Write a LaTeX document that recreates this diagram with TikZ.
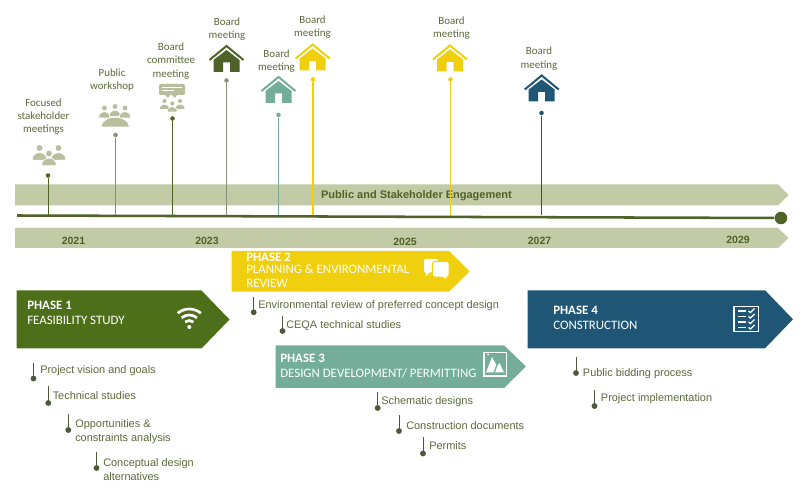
\documentclass[tikz,border=0pt]{standalone}
\usepackage{fontspec}
\setmainfont{Carlito}
\newfontfamily\arialf{Liberation Sans}
\definecolor{band}{HTML}{C3CBA6}
\definecolor{tline}{HTML}{4F6228}
\definecolor{olive}{HTML}{5A6B3A}
\definecolor{pone}{HTML}{4E6F1A}
\definecolor{ptwo}{HTML}{F0CF0E}
\definecolor{pthree}{HTML}{74AE9A}
\definecolor{pfour}{HTML}{1F5675}
\definecolor{softolive}{HTML}{B7BF9C}
\definecolor{stemgrey}{HTML}{8A9078}
\definecolor{bulletdark}{HTML}{4D5A3A}
\tikzset{
 x=0.75pt,y=-0.75pt,
 evlabel/.style={text=olive,align=center,font=\fontsize{8.2}{10}\selectfont,inner sep=0pt,yshift=-0.6pt},
 bltext/.style={text=olive,align=left,anchor=west,font=\arialf\fontsize{8.2}{10}\selectfont,inner sep=0pt,yshift=-0.6pt},
 yearlabel/.style={text=tline,font=\arialf\bfseries\fontsize{7.9}{10}\selectfont,inner sep=0pt,yshift=-0.3pt},
 phasetext/.style={text=white,align=left,anchor=north west,font=\fontsize{9.65}{10}\selectfont,inner sep=0pt},
 pin/.style={circle,inner sep=0pt,minimum size=3.4pt},
 bdot/.style={circle,fill=bulletdark,inner sep=0pt,minimum size=4.4pt},
 bandshape/.style={fill=band,draw=none},
}
\newcommand{\house}[4]{%
 \begin{scope}[shift={(#1,#2)}]
  \draw[#3,line width=1.5pt,miter limit=10] (-17,15.5)--(0,1.5)--(17,15.5);
  \fill[#3] (-13,27.5)--(-13,15.5)--(0,5.5)--(13,15.5)--(13,27.5)--(3.5,27.5)--(3.5,18)--(-3.5,18)--(-3.5,27.5)--cycle;
 \end{scope}}
\newcommand{\person}[3]{%
 \fill[softolive] (#1,#2) circle[radius=#3*0.82];
 \fill[softolive,draw=white,line width=0.5pt] (#1-#3*1.9,#2+#3*3.4) -- (#1-#3*1.9,#2+#3*2.4) .. controls (#1-#3*1.2,#2+#3*0.9) and (#1+#3*1.2,#2+#3*0.9) .. (#1+#3*1.9,#2+#3*2.4) -- (#1+#3*1.9,#2+#3*3.4) -- cycle;}
\newcommand{\bul}[8]{% name, x, top, doty, textx, texty, text, dotx
 \coordinate (#1top) at (#2,#3);
 \node[bdot] (#1dot) at (#8,#4) {};
 \draw[bulletdark,line width=0.6pt] (#1top) -- (#2,#4);
 \node[bltext] (#1txt) at (#5,#6) {#7};}
\newcommand{\evstem}[6]{% name, x, top, bottom, color, width
 \coordinate (#1base) at (#2,#4);
 \node[pin,fill=#5] (#1pin) at (#2,#3) {};
 \draw[#5,line width=#6] (#1base) -- (#1pin);}
\begin{document}
\begin{tikzpicture}
\useasboundingbox (0,0) rectangle (800,495);
\fill[white] (0,0) rectangle (800,495);
% bands
\fill[bandshape] (15,184.5)--(778,184.5)--(788.5,195)--(778,205.5)--(15,205.5)--cycle;
\fill[bandshape] (15,228)--(778,228)--(788.5,238)--(778,248)--(15,248)--cycle;
\node[text=tline,font=\arialf\bfseries\fontsize{8.25}{10}\selectfont,inner sep=0pt] (eng) at (416.5,196) {Public and Stakeholder Engagement};
\foreach \nm/\yx/\yy/\yt in {ya/73.5/240/2021,yb/207/240/2023,yc/405/241.5/2025,yd/539.5/240/2027,ye/738/239/2029}{
 \node[yearlabel] (\nm) at (\yx,\yy) {\yt};}
% stems
\evstem{s1}{48}{175.5}{216}{tline}{0.75pt}
\evstem{s2}{115.5}{135}{216}{stemgrey}{0.8pt}
\evstem{s3}{172.5}{118.5}{216}{tline}{0.6pt}
\evstem{s4}{226.5}{80.5}{217}{stemgrey}{0.9pt}
\evstem{s5}{278.5}{115}{217}{pthree}{0.7pt}
\evstem{s6}{313}{79.5}{217}{ptwo}{0.9pt}
\evstem{s7}{450.5}{79.5}{217}{ptwo}{0.9pt}
\evstem{s8}{541.5}{113}{215}{pfour}{0.7pt}
% timeline
\node[circle,fill=tline,inner sep=0pt,minimum size=9.4pt] (tend) at (781,218) {};
\coordinate (tstart) at (17,215.5);
\draw[tline,line width=1.9pt] (tstart) -- (tend);
% event labels
\node[evlabel] (l1) at (43.5,115.7) {Focused\\stakeholder\\meetings};
\node[evlabel] (l2) at (112,79.5) {Public\\workshop};
\node[evlabel] (l3) at (171,60.3) {Board\\committee\\meeting};
\node[evlabel] (l4) at (227,28.3) {Board\\meeting};
\node[evlabel] (l5) at (276.5,60.5) {Board\\meeting};
\node[evlabel] (l6) at (312.5,26.5) {Board\\meeting};
\node[evlabel] (l7) at (451.5,27.5) {Board\\meeting};
\node[evlabel] (l8) at (539,57.7) {Board\\meeting};
% houses
\house{226.5}{44.5}{tline}{}
\house{278.5}{75.5}{pthree}{}
\house{312.7}{43}{ptwo}{}
\house{450}{44}{ptwo}{}
\house{541.7}{74}{pfour}{}
% focused stakeholders icon
\person{39.5}{148}{3.6}
\person{58.5}{148}{3.6}
\person{49}{153.5}{3.6}
% workshop icon
\person{104.5}{108}{2.9}
\person{115}{106.5}{2.9}
\person{125}{108}{2.9}
\fill[softolive,draw=white,line width=0.5pt] (101,127)..controls (102,114) and (128,114)..(129.5,127)--cycle;
% board committee icon
\fill[softolive,rounded corners=1pt] (159,84)--(185,84)--(185,95)--(159,95)--cycle;
\fill[softolive] (165,95)--(168,98)--(170,95)--cycle (172,95)--(175,98)--(177,95)--cycle;
\draw[white,line width=0.7pt] (162,87.5)--(182,87.5) (162,90.5)--(174,90.5);
\person{164.5}{101}{2.5}
\person{180}{101}{2.5}
\person{172.3}{103.5}{2.5}
% phases
\fill[pone] (16.5,290.5)--(201.5,290.5)--(229.5,319.5)--(201.5,348.5)--(16.5,348.5)--cycle;
\fill[ptwo] (231.7,251)--(449,251)--(469.5,271.5)--(449,291.7)--(231.7,291.7)--cycle;
\fill[pthree] (275.7,345.3)--(504,345.3)--(526,366.5)--(504,388)--(275.7,388)--cycle;
\fill[pfour] (527.7,290.3)--(765,290.3)--(793,319.3)--(765,348.3)--(527.7,348.3)--cycle;
\node[phasetext] (p1) at (27,300.5) {\textbf{PHASE 1}\\[1.4pt]FEASIBILITY STUDY};
\node[phasetext] (p2) at (246,252.5) {\textbf{PHASE 2}\\[-0.5pt]PLANNING \& ENVIRONMENTAL\\[0pt]REVIEW};
\node[phasetext] (p3) at (280,353.5) {\textbf{PHASE 3}\\[1.4pt]DESIGN DEVELOPMENT/ PERMITTING};
\node[phasetext] (p4) at (553,305.5) {\textbf{PHASE 4}\\[1.4pt]CONSTRUCTION};
% wifi icon
\begin{scope}[shift={(189.3,327)}]
 \draw[white,line width=2pt] (-130:18) arc[start angle=-130,end angle=-50,radius=18];
 \draw[white,line width=2pt] (-130:12) arc[start angle=-130,end angle=-50,radius=12];
 \draw[white,line width=2pt] (-130:6.5) arc[start angle=-130,end angle=-50,radius=6.5];
 \fill[white] (0,0) circle[radius=2];
\end{scope}
% speech bubbles icon
\fill[white,rounded corners=1.5pt] (424,259)--(438,259)--(438,272)--(429,272)--(426,277)--(426,272)--(424,272)--cycle;
\fill[white,draw=ptwo,line width=0.7pt,rounded corners=1.5pt] (432.5,261.5)--(449,261.5)--(449,277)--(447,277)--(447,280.5)--(443,277)--(432.5,277)--cycle;
% picture icon
\draw[white,line width=1.3pt] (484,352.5) rectangle (506.5,376);
\fill[white] (486,372.5)--(492,357)--(497,366)--(499.5,363)--(504,372.5)--cycle;
\fill[pthree] (493.5,372.5)--(495,372.5)--(497.5,365)--(496.5,364.5)--cycle;
\fill[white] (488,354.5) circle[radius=1];
% checklist icon
\draw[white,line width=1.2pt] (734,306.5) rectangle (758.5,331.5);
\foreach \yy in {311,316.5,322,327.5}{
 \draw[white,line width=1pt] (738,\yy)--(746,\yy);
 \draw[white,line width=1pt] (748.5,\yy)--(750.5,\yy+1.5)--(754.5,\yy-2.5);}
% bullet lists
\bul{a}{33.5}{363}{378.5}{40}{370}{Project vision and goals}{33.5}
\bul{b}{48.3}{386}{403}{52.5}{395}{Technical studies}{48.3}
\bul{c}{68.3}{414}{430}{75}{430.7}{Opportunities \&\\[0.1pt]constraints analysis}{68.3}
\bul{d}{96.5}{452}{468}{103}{468.7}{Conceptual design\\[0.1pt]alternatives}{96.5}
\bul{e}{253.7}{296.7}{312.3}{258}{305}{Environmental review of preferred concept design}{253.7}
\bul{f}{282.5}{316}{331}{286}{325}{CEQA technical studies}{282.5}
\bul{g}{377.7}{392}{408}{381}{401}{Schematic designs}{377.7}
\bul{h}{399}{415}{431}{406}{425}{Construction documents}{399}
\bul{i}{423}{437}{453.5}{429}{445}{Permits}{423}
\bul{j}{576}{357}{373}{582.7}{373}{Public bidding process}{576}
\bul{k}{594.5}{390}{406}{600.7}{398}{Project implementation}{594.5}
\end{tikzpicture}
\end{document}
